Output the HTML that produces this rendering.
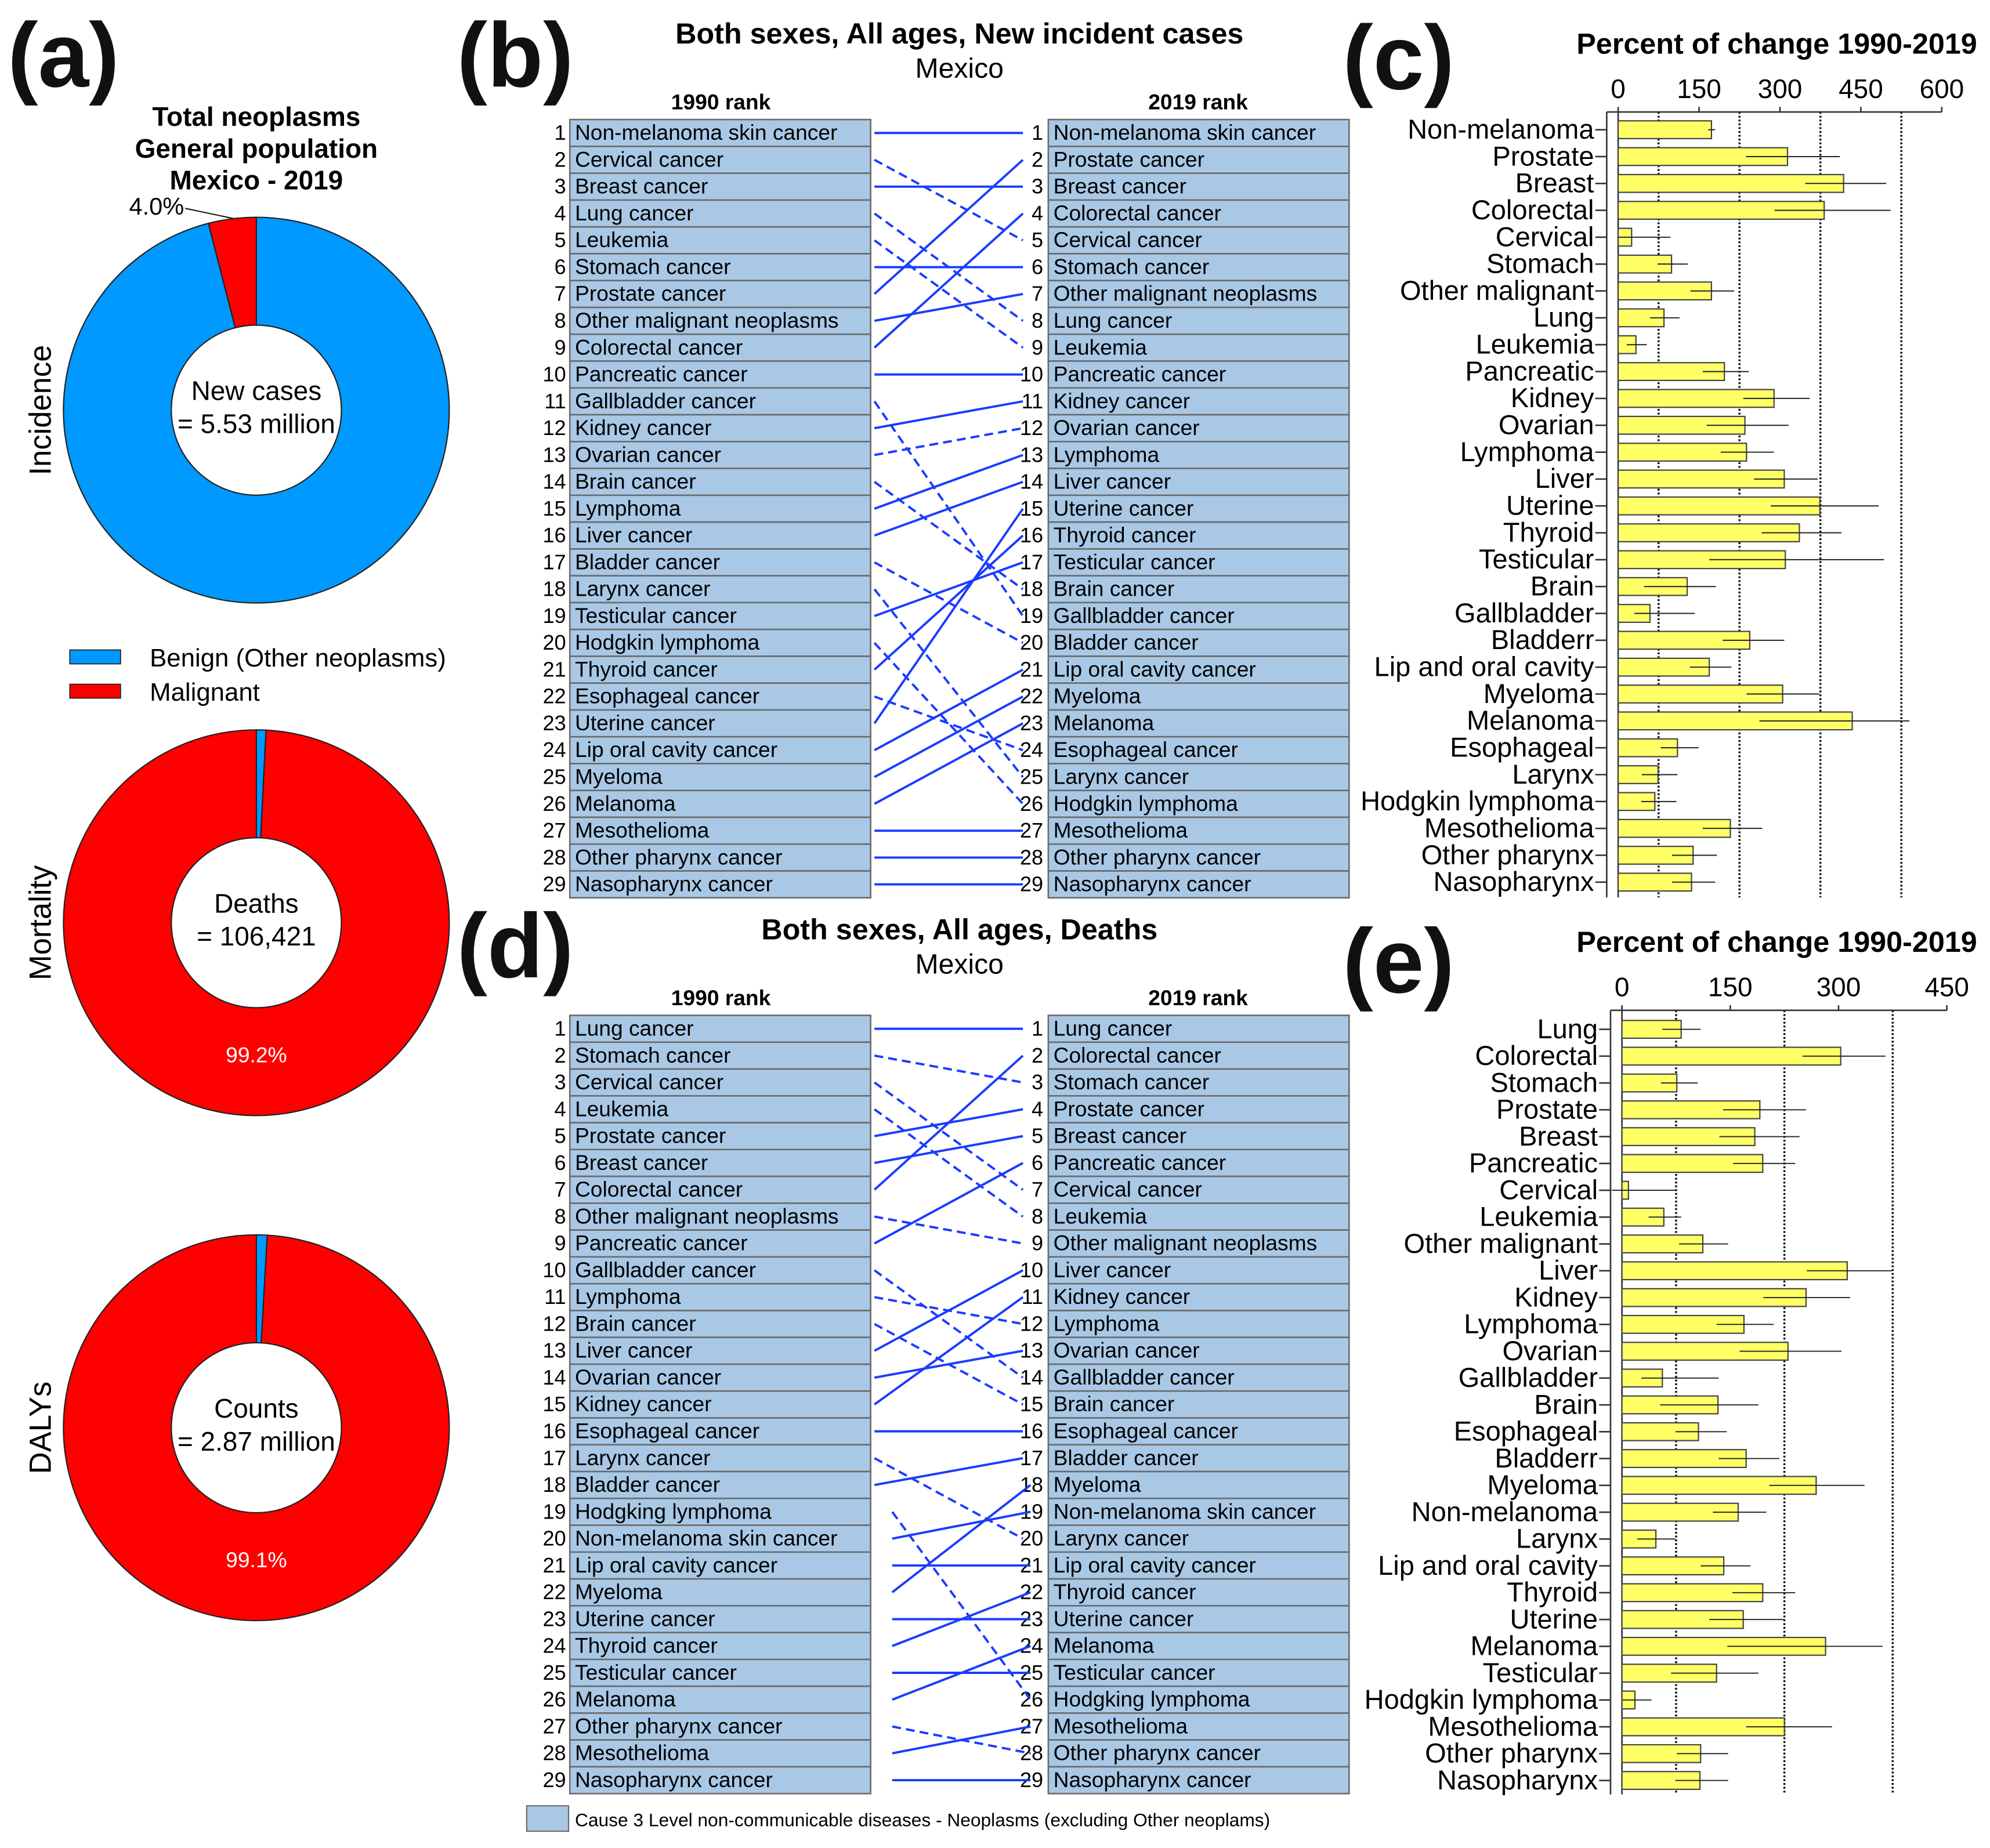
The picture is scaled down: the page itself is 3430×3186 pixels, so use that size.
<!DOCTYPE html>
<html><head><meta charset="utf-8">
<style>
html,body{margin:0;padding:0;background:#fff;}
svg{display:block;}
text{font-family:"Liberation Sans",sans-serif;}
.nar{font-family:"Liberation Sans Narrow","Liberation Sans",sans-serif;}
</style></head>
<body>
<svg id="fig" width="3430" height="3186" viewBox="0 0 1568 1456" xmlns="http://www.w3.org/2000/svg">
<rect x="0" y="0" width="1568" height="1456" fill="#fff"/>
<g id="root"></g>
</svg>
<script>
// ---------- DATA ----------
const pieShares = [4.0, 99.2, 99.1]; // % malignant
const pieCenters = ["New cases", "Deaths", "Counts"];
const pieTotals = ["= 5.53 million", "= 106,421", "= 2.87 million"];
const pieRows = ["Incidence", "Mortality", "DALYs"];

const bNames1990 = ["Non-melanoma skin cancer","Cervical cancer","Breast cancer","Lung cancer","Leukemia","Stomach cancer","Prostate cancer","Other malignant neoplasms","Colorectal cancer","Pancreatic cancer","Gallbladder cancer","Kidney cancer","Ovarian cancer","Brain cancer","Lymphoma","Liver cancer","Bladder cancer","Larynx cancer","Testicular cancer","Hodgkin lymphoma","Thyroid cancer","Esophageal cancer","Uterine cancer","Lip oral cavity cancer","Myeloma","Melanoma","Mesothelioma","Other pharynx cancer","Nasopharynx cancer"];
const bNames2019 = ["Non-melanoma skin cancer","Prostate cancer","Breast cancer","Colorectal cancer","Cervical cancer","Stomach cancer","Other malignant neoplasms","Lung cancer","Leukemia","Pancreatic cancer","Kidney cancer","Ovarian cancer","Lymphoma","Liver cancer","Uterine cancer","Thyroid cancer","Testicular cancer","Brain cancer","Gallbladder cancer","Bladder cancer","Lip oral cavity cancer","Myeloma","Melanoma","Esophageal cancer","Larynx cancer","Hodgkin lymphoma","Mesothelioma","Other pharynx cancer","Nasopharynx cancer"];
const bRank2019 = [1,5,3,8,9,6,2,7,4,10,19,11,12,18,13,14,20,25,17,26,16,24,15,21,22,23,27,28,29];
const bDashed = [0,1,0,1,1,0,0,0,0,0,1,0,1,1,0,0,1,1,0,1,0,1,0,0,0,0,0,0,0];

const dNames1990 = ["Lung cancer","Stomach cancer","Cervical cancer","Leukemia","Prostate cancer","Breast cancer","Colorectal cancer","Other malignant neoplasms","Pancreatic cancer","Gallbladder cancer","Lymphoma","Brain cancer","Liver cancer","Ovarian cancer","Kidney cancer","Esophageal cancer","Larynx cancer","Bladder cancer","Hodgking lymphoma","Non-melanoma skin cancer","Lip oral cavity cancer","Myeloma","Uterine cancer","Thyroid cancer","Testicular cancer","Melanoma","Other pharynx cancer","Mesothelioma","Nasopharynx cancer"];
const dNames2019 = ["Lung cancer","Colorectal cancer","Stomach cancer","Prostate cancer","Breast cancer","Pancreatic cancer","Cervical cancer","Leukemia","Other malignant neoplasms","Liver cancer","Kidney cancer","Lymphoma","Ovarian cancer","Gallbladder cancer","Brain cancer","Esophageal cancer","Bladder cancer","Myeloma","Non-melanoma skin cancer","Larynx cancer","Lip oral cavity cancer","Thyroid cancer","Uterine cancer","Melanoma","Testicular cancer","Hodgking lymphoma","Mesothelioma","Other pharynx cancer","Nasopharynx cancer"];
const dRank2019 = [1,3,7,8,4,5,2,9,6,14,12,15,10,13,11,16,20,17,26,19,21,18,23,22,25,24,28,27,29];
const dDashed = [0,1,1,1,0,0,0,1,0,1,1,1,0,0,0,0,1,0,1,0,0,0,0,0,0,0,1,0,0];

const cCats = ["Non-melanoma","Prostate","Breast","Colorectal","Cervical","Stomach","Other malignant","Lung","Leukemia","Pancreatic","Kidney","Ovarian","Lymphoma","Liver","Uterine","Thyroid","Testicular","Brain","Gallbladder","Bladderr","Lip and oral cavity","Myeloma","Melanoma","Esophageal","Larynx","Hodgkin lymphoma","Mesothelioma","Other pharynx","Nasopharynx"];
const cVals = [173,314,418,382,25,99,173,85,33,197,289,235,238,308,374,336,310,128,59,244,169,305,434,110,74,68,208,139,136];
const cLow = [167,237,347,290,0,73,134,59,16,157,232,164,190,252,283,266,169,48,30,194,133,238,262,79,44,43,157,100,100];
const cHigh = [180,411,497,505,97,129,215,114,53,242,355,316,289,370,483,414,493,181,142,308,210,373,540,149,110,108,267,183,180];
const cTicks = [0,150,300,450,600];
const cGrid = [75,225,375,525];

const eCats = ["Lung","Colorectal","Stomach","Prostate","Breast","Pancreatic","Cervical","Leukemia","Other malignant","Liver","Kidney","Lymphoma","Ovarian","Gallbladder","Brain","Esophageal","Bladderr","Myeloma","Non-melanoma","Larynx","Lip and oral cavity","Thyroid","Uterine","Melanoma","Testicular","Hodgkin lymphoma","Mesothelioma","Other pharynx","Nasopharynx"];
const eVals = [82,303,76,191,184,195,9,58,112,312,255,169,230,56,133,106,172,269,161,47,141,195,168,282,131,18,225,109,108];
const eLow = [56,250,54,140,135,154,-14,37,79,256,196,131,163,27,53,74,134,204,126,21,109,153,121,146,68,1,172,76,74];
const eHigh = [109,365,105,255,246,240,74,82,147,374,316,210,304,134,189,145,218,336,200,74,178,240,224,361,189,41,291,147,147];
const eTicks = [0,150,300,450];
const eGrid = [75,225,375];

// ---------- HELPERS ----------
const NS = "http://www.w3.org/2000/svg";
const root = document.getElementById("root");
function mk(tag, attrs, parent, txt){
  const e = document.createElementNS(NS, tag);
  for (const k in attrs) e.setAttribute(k, attrs[k]);
  if (txt !== undefined) e.textContent = txt;
  (parent || root).appendChild(e);
  return e;
}

// ---------- PANEL LABELS ----------
[["(a)",6,68],["(b)",360,68],["(c)",1058,70],["(d)",360,770],["(e)",1058,782]].forEach(p=>{
  const t = mk("text",{x:p[1],y:p[2],"font-size":72,"font-weight":"bold",fill:"#111"},root,p[0]);
  
  
});

// ---------- PANEL A ----------
const gA = mk("g",{});


["Total neoplasms","General population","Mexico - 2019"].forEach((s,i)=>{
  const t = mk("text",{x:202,y:99+i*25,"text-anchor":"middle","font-size":21,"font-weight":"bold",class:"nar"},gA,s);
  
  
});
function arcPath(cx,cy,r0,r1,a0,a1){
  const rad = a=> (a-90)*Math.PI/180;
  const p=(r,a)=>[cx+r*Math.cos(rad(a)), cy+r*Math.sin(rad(a))];
  const large = (a1-a0)>180?1:0;
  const [x0,y0]=p(r1,a0),[x1,y1]=p(r1,a1),[x2,y2]=p(r0,a1),[x3,y3]=p(r0,a0);
  return `M${x0},${y0} A${r1},${r1} 0 ${large} 1 ${x1},${y1} L${x2},${y2} A${r0},${r0} 0 ${large} 0 ${x3},${y3} Z`;
}
const pieCY = [323,727,1125];
pieShares.forEach((m,i)=>{
  const cx=202, cy=pieCY[i], R=152, r=67;
  const mal = m*3.6;
  let red, blue;
  if (i===0){
    blue = mk("path",{d:arcPath(cx,cy,r,R,0,360-mal),fill:"#0099ff",stroke:"#222","stroke-width":1},gA);
    red = mk("path",{d:arcPath(cx,cy,r,R,-mal,0),fill:"#ff0000",stroke:"#222","stroke-width":1},gA);
  } else {
    const ba = (100-m)*3.6;
    blue = mk("path",{d:arcPath(cx,cy,r,R,0,ba),fill:"#0099ff",stroke:"#222","stroke-width":1},gA);
    red = mk("path",{d:arcPath(cx,cy,r,R,ba,360),fill:"#ff0000",stroke:"#222","stroke-width":1},gA);
  }
  
  
  
  
  const c1 = mk("text",{x:cx,y:cy-8,"text-anchor":"middle","font-size":21,class:"nar"},gA,pieCenters[i]);
  
  
  const c2 = mk("text",{x:cx,y:cy+18,"text-anchor":"middle","font-size":21,class:"nar"},gA,pieTotals[i]);
  
  
  const rl = mk("text",{x:0,y:0,"text-anchor":"middle","font-size":24,transform:`translate(40,${cy}) rotate(-90)`,class:"nar"},gA,pieRows[i]);
  
  
  if (i===0){
    const ln = mk("path",{d:"M146,164 L184,172",stroke:"#222","stroke-width":1,fill:"none"},gA);
    
    
    const pt = mk("text",{x:145,y:169,"text-anchor":"end","font-size":19,class:"nar"},gA,m.toFixed(1)+"%");
    
    
  } else {
    const pt = mk("text",{x:cx,y:cy+110,"text-anchor":"middle","font-size":17,fill:"#fff"},gA,m.toFixed(1)+"%");
    
    
  }
});
[["#0099ff","Benign (Other neoplasms)",518],["#ff0000","Malignant",545]].forEach(l=>{
  const r = mk("rect",{x:55,y:l[2]-6,width:40,height:11,fill:l[0],stroke:"#222","stroke-width":0.8},gA);
  
  
  const t = mk("text",{x:118,y:l[2]+7,"font-size":20,class:"nar"},gA,l[1]);
  
  
});

// ---------- RANK PANELS ----------
function rankPanel(names90, names19, rank19, dashed, title, top, titleY, tag, lateStart){
  const g = mk("g",{});
  
  
  const step = 21.15;
  const t1 = mk("text",{x:756,y:titleY,"text-anchor":"middle","font-size":23,"font-weight":"bold"},g,title);
  
  
  const t2 = mk("text",{x:756,y:titleY+27,"text-anchor":"middle","font-size":22},g,"Mexico");
  
  
  const h1 = mk("text",{x:568,y:top-8,"text-anchor":"middle","font-size":17,"font-weight":"bold"},g,"1990 rank");
  
  
  const h2 = mk("text",{x:944,y:top-8,"text-anchor":"middle","font-size":17,"font-weight":"bold"},g,"2019 rank");
  
  
  const rowY = i => top + step*i;
  [[449,names90,446],[826,names19,822]].forEach(col=>{
    col[1].forEach((n,i)=>{
      const r = mk("rect",{x:col[0],y:rowY(i),width:237,height:step,fill:"#a9c8e6",stroke:"#6b6b6b","stroke-width":1.2},g);
      
      
      const num = mk("text",{x:col[2],y:rowY(i)+16,"text-anchor":"end","font-size":16.5},g,String(i+1));
      
      
      const tx = mk("text",{x:col[0]+4,y:rowY(i)+16,"font-size":17},g,n);
      
      
    });
  });
  rank19.forEach((r2,i)=>{
    const y1 = rowY(i)+step/2, y2 = rowY(r2-1)+step/2;
    const late = lateStart && i >= 18;
    const ln = mk("line",{x1:late?703:689,y1:y1,x2:late?812:806,y2:y2,stroke:"#1a3cff","stroke-width":1.8},g);
    if (dashed[i]) ln.setAttribute("stroke-dasharray","7,4");
    
    
  });
}
rankPanel(bNames1990,bNames2019,bRank2019,bDashed,"Both sexes, All ages, New incident cases",94,34,"panel-b-incidence-ranks",false);
rankPanel(dNames1990,dNames2019,dRank2019,dDashed,"Both sexes, All ages, Deaths",800,740,"panel-d-death-ranks",true);

// bottom legend
const bl = mk("rect",{x:415,y:1423,width:33,height:20,fill:"#a9c8e6",stroke:"#6b6b6b","stroke-width":1});


const blt = mk("text",{x:453,y:1439,"font-size":14.5},root,"Cause 3 Level non-communicable diseases - Neoplasms (excluding Other neoplams)");



// ---------- BAR CHARTS ----------
function barChart(cats, vals, lo, hi, ticks, grid, x0, xmax, vmax, axisY, firstY, lastY, bottomY, titleY, tag){
  const g = mk("g",{});
  
  
  const xs = v => x0 + (v/vmax)*(xmax-x0);
  const step = (lastY-firstY)/(cats.length-1);
  const ys = i => firstY + step*i;
  const tt = mk("text",{x:1400,y:titleY,"text-anchor":"middle","font-size":23,"font-weight":"bold"},g,"Percent of change 1990-2019");
  
  
  grid.forEach(v=>{
    const l = mk("line",{x1:xs(v),y1:axisY,x2:xs(v),y2:bottomY,stroke:"#111","stroke-width":1.6,"stroke-dasharray":"1.5,1.5"},g);
    
    
  });
  const ax = mk("line",{x1:x0-9,y1:axisY,x2:xmax,y2:axisY,stroke:"#333","stroke-width":1.2},g);
  
  
  const ay = mk("line",{x1:x0-9,y1:axisY,x2:x0-9,y2:bottomY,stroke:"#333","stroke-width":1.2},g);
  
  
  const zl = mk("line",{x1:x0,y1:axisY,x2:x0,y2:bottomY,stroke:"#333","stroke-width":1.2},g);
  
  
  ticks.forEach(v=>{
    const tk = mk("line",{x1:xs(v),y1:axisY,x2:xs(v),y2:axisY-4,stroke:"#333","stroke-width":1.2},g);
    
    
    const tl = mk("text",{x:xs(v),y:axisY-11,"text-anchor":"middle","font-size":21},g,String(v));
    
    
  });
  cats.forEach((c,i)=>{
    const y = ys(i);
    const tk = mk("line",{x1:x0-18,y1:y,x2:x0-9,y2:y,stroke:"#333","stroke-width":1.2},g);
    
    
    const lb = mk("text",{x:x0-19,y:y+7,"text-anchor":"end","font-size":21.5},g,c);
    
    
    const b = mk("rect",{x:xs(0),y:y-7,width:Math.max(0,xs(vals[i])-xs(0)),height:14,fill:"#ffff66",stroke:"#444","stroke-width":1},g);
    
    
    const e = mk("line",{x1:xs(lo[i]),y1:y,x2:xs(hi[i]),y2:y,stroke:"#222","stroke-width":0.9},g);
    
    
  });
}
barChart(cCats,cVals,cLow,cHigh,cTicks,cGrid,1275,1530,600,88,102,695,707,42,"panel-c-incidence-change");
barChart(eCats,eVals,eLow,eHigh,eTicks,eGrid,1278,1534,450,796,811,1403,1414,750,"panel-e-death-change");
</script>
</body></html>
